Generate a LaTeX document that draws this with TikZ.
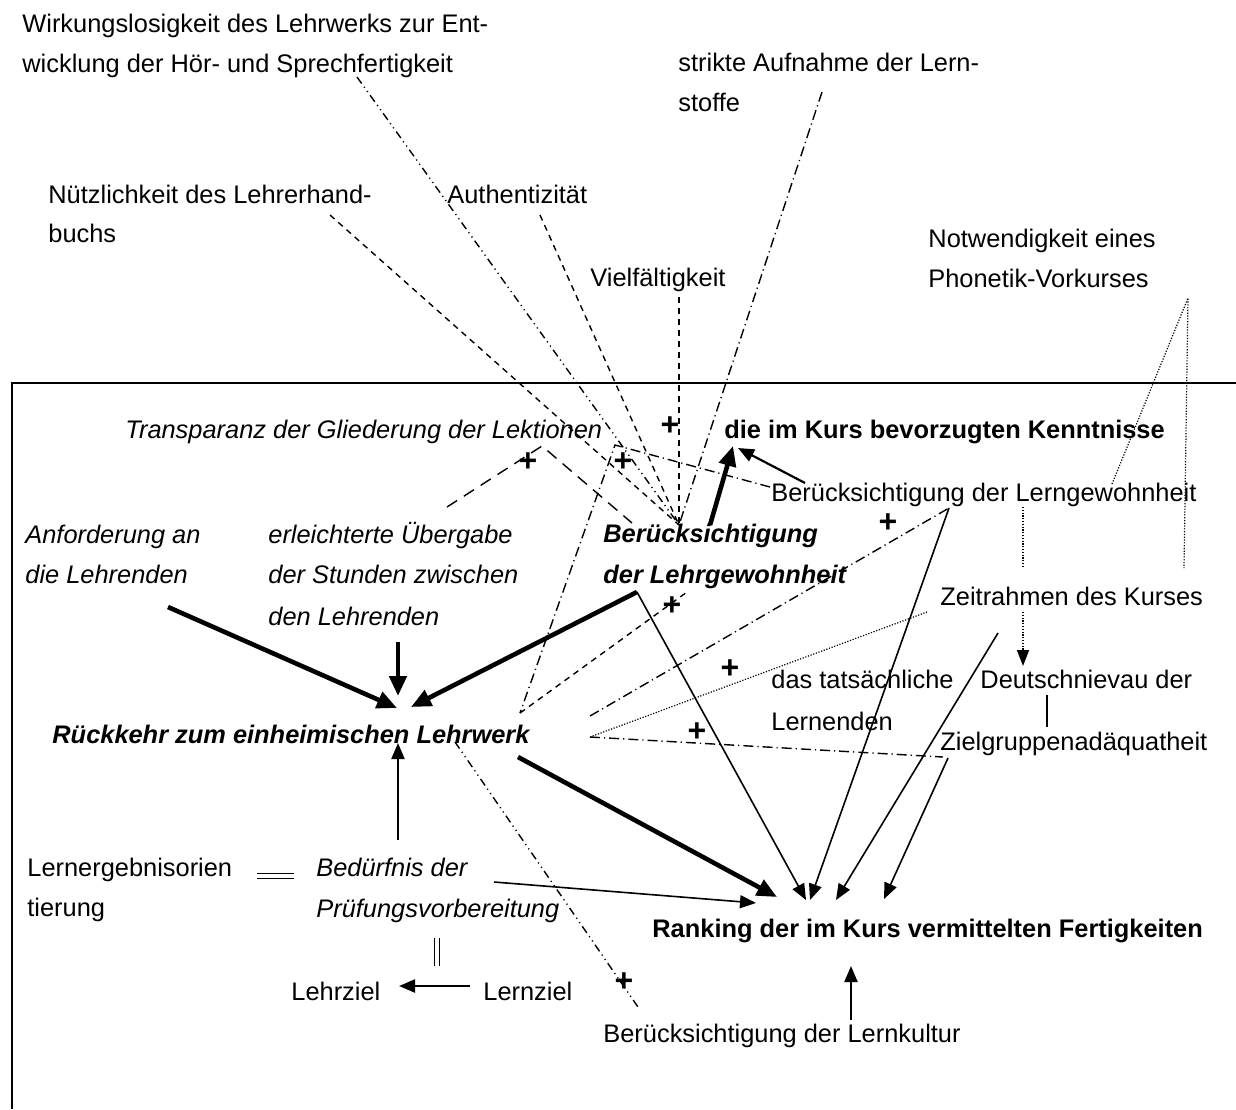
\documentclass[tikz,border=0pt]{standalone}
\usepackage{fontspec}
\setmainfont{Liberation Sans}
\usetikzlibrary{arrows.meta}
\begin{document}
\begin{tikzpicture}[x=0.5pt,y=-0.5pt,
  every node/.style={inner sep=0pt, anchor=base west, font=\fontsize{12.7}{15}\selectfont},
  lbl/.style={},
  lit/.style={font=\fontsize{12.7}{15}\selectfont\itshape},
  lbf/.style={font=\fontsize{12.7}{15}\selectfont\bfseries},
  lbfi/.style={font=\fontsize{12.7}{15}\selectfont\bfseries\itshape},
  sgn/.style={anchor=center, font=\fontsize{16}{16}\selectfont\bfseries},
  frame/.style={line width=0.8pt},
  linkthin/.style={line width=0.8pt, -{Triangle[length=8pt,width=6.5pt]}},
  linkmid/.style={line width=1.1pt, -{Triangle[length=8pt,width=6.5pt]}},
  linkthick/.style={line width=2.3pt, -{Triangle[length=10pt,width=8.5pt]}},
  plainline/.style={line width=0.75pt},
  dashline/.style={line width=0.7pt, dash pattern=on 3pt off 2.5pt},
  longdash/.style={line width=0.7pt, dash pattern=on 6pt off 4pt},
  dashdot/.style={line width=0.7pt, dash pattern=on 5pt off 2pt on 0.6pt off 2pt},
  dashdotdot/.style={line width=0.7pt, dash pattern=on 4pt off 2pt on 0.6pt off 2pt on 0.6pt off 2pt},
  dotline/.style={line width=0.6pt, dash pattern=on 0.6pt off 0.8pt}
]
\useasboundingbox (0,0) rectangle (1236,1109);

% frame of the inner field
\coordinate (fTL) at (12,383);
\coordinate (fTR) at (1236,383);
\coordinate (fBL) at (12,1109);
\draw[frame] (fBL) -- (fTL) -- (fTR);

% outer factors
\node[lbl] (wirkA) at (22,32) {Wirkungslosigkeit des Lehrwerks zur Ent-};
\node[lbl] (wirkB) at (22,72) {wicklung der Hör- und Sprechfertigkeit};
\node[lbl] (strA) at (678,71) {strikte Aufnahme der Lern-};
\node[lbl] (strB) at (678,111) {stoffe};
\node[lbl] (nuetzA) at (48,203) {Nützlichkeit des Lehrerhand-};
\node[lbl] (nuetzB) at (48,242) {buchs};
\node[lbl] (auth) at (447,203) {Authentizität};
\node[lbl] (viel) at (590,286) {Vielfältigkeit};
\node[lbl] (notwA) at (928,247) {Notwendigkeit eines};
\node[lbl] (notwB) at (928,287) {Phonetik-Vorkurses};

% inner factors
\node[lit] (transp) at (125,438) {Transparanz der Gliederung der Lektionen};
\node[lbf] (kennt) at (724,438) {die im Kurs bevorzugten Kenntnisse};
\node[lbl] (lerngew) at (771,501) {Berücksichtigung der Lerngewohnheit};
\node[lit] (anfA) at (25,543) {Anforderung an};
\node[lit] (anfB) at (25,583) {die Lehrenden};
\node[lit] (uebA) at (268,543) {erleichterte Übergabe};
\node[lit] (uebB) at (268,583) {der Stunden zwischen};
\node[lit] (uebC) at (268,625) {den Lehrenden};
\node[lbfi] (lehrgA) at (603,542) {Berücksichtigung};
\node[lbfi] (lehrgB) at (603,583) {der Lehrgewohnheit};
\node[lbl] (zeit) at (940,605) {Zeitrahmen des Kurses};
\node[lbl] (tatsA) at (771,688) {das tatsächliche};
\node[lbl] (tatsB) at (771,730) {Lernenden};
\node[lbl] (dniv) at (980,688) {Deutschnievau der};
\node[lbl] (zielg) at (940,750) {Zielgruppenadäquatheit};
\node[lbfi] (rueck) at (52,743) {Rückkehr zum einheimischen Lehrwerk};
\node[lbl] (lergA) at (27,876) {Lernergebnisorien};
\node[lbl] (lergB) at (27,916) {tierung};
\node[lit] (bedA) at (316,876) {Bedürfnis der};
\node[lit] (bedB) at (316,917) {Prüfungsvorbereitung};
\node[lbl] (lehrz) at (291,1000) {Lehrziel};
\node[lbl] (lernz) at (483,1000) {Lernziel};
\node[lbf] (rank) at (652,937) {Ranking der im Kurs vermittelten Fertigkeiten};
\node[lbl] (kultur) at (603,1042) {Berücksichtigung der Lernkultur};

% plus signs
\node[sgn] (p1) at (670,426) {+};
\node[sgn] (p2) at (528,462) {+};
\node[sgn] (p3) at (623,462) {+};
\node[sgn] (p4) at (888,523) {+};
\node[sgn] (p5) at (672,606) {+};
\node[sgn] (p6) at (730,669) {+};
\node[sgn] (p7) at (697,732) {+};
\node[sgn] (p8) at (624,982) {+};

% end points of the connectors
\coordinate (conv) at (679,525);
\coordinate (wirkE) at (357,77);
\coordinate (nuetzE) at (330,215);
\coordinate (authE) at (540,215);
\coordinate (vielE) at (679,297);
\coordinate (strE) at (822,92);
\coordinate (trL) at (447,507);
\coordinate (trP) at (542,446);
\coordinate (trR) at (632,523);
\coordinate (lgS) at (770,487);
\coordinate (lgP) at (615,445);
\coordinate (rkR) at (520,713);
\coordinate (lhR) at (687,592);
\coordinate (rkA) at (590,716);
\coordinate (lgB) at (949,508);
\coordinate (rkB) at (590,737);
\coordinate (zeitL) at (927,612);
\coordinate (zielL) at (943,757);
\coordinate (phApex) at (1188,298);
\coordinate (phA) at (1112,484);
\coordinate (phB) at (1184,568);
\coordinate (lgZ1) at (1023,507);
\coordinate (lgZ2) at (1023,568);
\coordinate (zdA) at (1023,612);
\coordinate (zdB) at (1023,666);
\coordinate (dzA) at (1047,695);
\coordinate (dzB) at (1047,727);
\coordinate (rkK) at (455,742);
\coordinate (kuK) at (638,1007);

% dashed influences converging on the teaching habits
\draw[dashdotdot] (wirkE) -- (conv);
\draw[dashline] (nuetzE) -- (conv);
\draw[dashline] (authE) -- (conv);
\draw[dashline] (vielE) -- (conv);
\draw[dashdot] (strE) -- (conv);

\draw[longdash] (trL) -- (trP) -- (trR);
\draw[dashdot] (lgS) -- (lgP) -- (rkR);
\draw[dashline] (rkR) -- (lhR);
\draw[dashdot] (rkA) -- (lgB);
\draw[dotline] (rkB) -- (zeitL);
\draw[dashdot] (rkB) -- (zielL);
\draw[dotline] (phA) -- (phApex) -- (phB);
\draw[dotline] (lgZ1) -- (lgZ2);
\draw[dotline, line width=0.8pt, -{Triangle[length=8pt,width=6pt]}] (zdA) -- (zdB);
\draw[plainline] (dzA) -- (dzB);
\draw[dashdotdot] (rkK) -- (kuK);

% solid arrows into the return to the domestic textbook
\coordinate (anfS) at (168,607);
\coordinate (rkT1) at (397,708);
\coordinate (uebS) at (398,642);
\coordinate (rkT2) at (398,696);
\coordinate (lhE) at (637,592);
\coordinate (rkT3) at (411,707);
\coordinate (bedS) at (398,840);
\coordinate (rkT4) at (398,743);
\draw[linkthick] (anfS) -- (rkT1);
\draw[linkthick] (uebS) -- (rkT2);
\draw[linkthick] (lhE) -- (rkT3);
\draw[linkmid] (bedS) -- (rkT4);

% arrows into the preferred knowledge
\coordinate (lhK) at (710,525);
\coordinate (kT1) at (733,446);
\coordinate (lgK) at (805,483);
\coordinate (kT2) at (738,448);
\draw[linkthick] (lhK) -- (kT1);
\draw[linkmid] (lgK) -- (kT2);

% arrows into the ranking of skills
\coordinate (rT1) at (806,900);
\coordinate (rT2) at (810,900);
\coordinate (zeitS) at (998,633);
\coordinate (rT3) at (836,900);
\coordinate (zielS) at (948,758);
\coordinate (rT4) at (884,899);
\coordinate (rkS) at (518,757);
\coordinate (rT5) at (777,897);
\coordinate (bedR) at (494,882);
\coordinate (rT6) at (756,903);
\coordinate (kuS) at (851,1020);
\coordinate (rT7) at (851,966);
\draw[linkthin] (lhE) -- (rT1);
\draw[linkthin] (lgB) -- (rT2);
\draw[linkthin] (zeitS) -- (rT3);
\draw[linkthin] (zielS) -- (rT4);
\draw[linkthick] (rkS) -- (rT5);
\draw[linkthin] (bedR) -- (rT6);
\draw[linkmid] (kuS) -- (rT7);

% goal relations
\coordinate (lzS) at (470,986);
\coordinate (lzT) at (399,986);
\draw[linkmid] (lzS) -- (lzT);
\coordinate (eqL) at (257,876);
\coordinate (eqR) at (294,876);
\draw[line width=0.6pt, double distance=1.8pt] (eqL) -- (eqR);
\coordinate (vqT) at (437,938);
\coordinate (vqB) at (437,966);
\draw[line width=0.6pt, double distance=1.8pt] (vqT) -- (vqB);
\end{tikzpicture}
\end{document}
